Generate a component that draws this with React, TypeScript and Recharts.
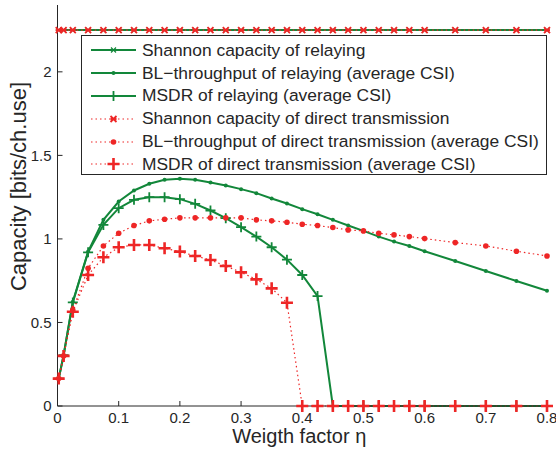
import { Line, LineChart, XAxis, YAxis } from "recharts";

const etas = [0.002, 0.01, 0.025, 0.05, 0.075, 0.1, 0.125, 0.15, 0.175, 0.2, 0.225, 0.25, 0.275, 0.3, 0.325, 0.35, 0.375, 0.4, 0.425, 0.45, 0.475, 0.5, 0.525, 0.55, 0.575, 0.6, 0.65, 0.7, 0.75, 0.8];

const shannonRelay = [2.25, 2.25, 2.25, 2.25, 2.25, 2.25, 2.25, 2.25, 2.25, 2.25, 2.25, 2.25, 2.25, 2.25, 2.25, 2.25, 2.25, 2.25, 2.25, 2.25, 2.25, 2.25, 2.25, 2.25, 2.25, 2.25, 2.25, 2.25, 2.25, 2.25];
const blRelay = [0.164, 0.304, 0.624, 0.924, 1.114, 1.224, 1.29, 1.33, 1.354, 1.36, 1.354, 1.338, 1.32, 1.298, 1.274, 1.242, 1.212, 1.178, 1.148, 1.114, 1.08, 1.048, 1.014, 0.984, 0.958, 0.926, 0.868, 0.808, 0.748, 0.69];
const msdrRelay = [0.164, 0.304, 0.62, 0.92, 1.084, 1.184, 1.234, 1.25, 1.25, 1.238, 1.21, 1.17, 1.124, 1.07, 1.014, 0.95, 0.876, 0.784, 0.658, 0, 0, 0, 0, 0, 0, 0, 0, 0, 0, 0];
const shannonDirect = [2.25, 2.25, 2.25, 2.25, 2.25, 2.25, 2.25, 2.25, 2.25, 2.25, 2.25, 2.25, 2.25, 2.25, 2.25, 2.25, 2.25, 2.25, 2.25, 2.25, 2.25, 2.25, 2.25, 2.25, 2.25, 2.25, 2.25, 2.25, 2.25, 2.25];
const blDirect = [0.164, 0.3, 0.574, 0.824, 0.958, 1.034, 1.08, 1.108, 1.118, 1.126, 1.126, 1.126, 1.126, 1.126, 1.114, 1.108, 1.1, 1.088, 1.08, 1.068, 1.054, 1.048, 1.034, 1.024, 1.014, 1.002, 0.978, 0.958, 0.926, 0.898];
const msdrDirect = [0.164, 0.3, 0.564, 0.784, 0.89, 0.95, 0.964, 0.964, 0.944, 0.924, 0.898, 0.874, 0.838, 0.8, 0.758, 0.704, 0.618, 0, 0, 0, 0, 0, 0, 0, 0, 0, 0, 0, 0, 0];

const xTicks = [0, 0.1, 0.2, 0.3, 0.4, 0.5, 0.6, 0.7, 0.8];
const yTicks = [0, 0.5, 1, 1.5, 2];

const GREEN = "#12873a";
const RED = "#ee2626";
const INK = "#262626";
const FONT = "'Liberation Sans', Arial, sans-serif";

const data = etas.map((eta, i) => ({
  eta,
  shannonRelay: shannonRelay[i],
  blRelay: blRelay[i],
  msdrRelay: msdrRelay[i],
  shannonDirect: shannonDirect[i],
  blDirect: blDirect[i],
  msdrDirect: msdrDirect[i],
}));

type Kind = "star" | "dot" | "plus" | "bigstar" | "bigdot" | "bigplus";

function Marker({ kind, x, y, color }: { kind: Kind; x: number; y: number; color: string }) {
  switch (kind) {
    case "star":
      return (
        <path
          d={`M${x - 2.5} ${y - 2.5}L${x + 2.5} ${y + 2.5}M${x - 2.5} ${y + 2.5}L${x + 2.5} ${y - 2.5}M${x - 3} ${y}H${x + 3}`}
          stroke={color}
          strokeWidth={1.2}
        />
      );
    case "bigstar":
      return (
        <path
          d={`M${x - 3} ${y - 3}L${x + 3} ${y + 3}M${x - 3} ${y + 3}L${x + 3} ${y - 3}M${x - 3} ${y}H${x + 3}`}
          stroke={color}
          strokeWidth={1.8}
        />
      );
    case "dot":
      return <circle cx={x} cy={y} r={2} fill={color} />;
    case "bigdot":
      return <circle cx={x} cy={y} r={2.8} fill={color} />;
    case "plus":
      return <path d={`M${x - 5} ${y}H${x + 5}M${x} ${y - 5}V${y + 5}`} stroke={color} strokeWidth={1.8} />;
    default:
      return <path d={`M${x - 6} ${y}H${x + 6}M${x} ${y - 6}V${y + 6}`} stroke={color} strokeWidth={2.6} />;
  }
}

const dotFor = (kind: Kind, color: string) => (p: any) => (
  <Marker key={`${kind}-${p.index}`} kind={kind} x={p.cx} y={p.cy} color={color} />
);

const legendItems: { label: string; color: string; dotted: boolean; kind: Kind }[] = [
  { label: "Shannon capacity of relaying", color: GREEN, dotted: false, kind: "star" },
  { label: "BL\u2212throughput of relaying (average CSI)", color: GREEN, dotted: false, kind: "dot" },
  { label: "MSDR of relaying (average CSI)", color: GREEN, dotted: false, kind: "plus" },
  { label: "Shannon capacity of direct transmission", color: RED, dotted: true, kind: "bigstar" },
  { label: "BL\u2212throughput of direct transmission (average CSI)", color: RED, dotted: true, kind: "bigdot" },
  { label: "MSDR of direct transmission (average CSI)", color: RED, dotted: true, kind: "bigplus" },
];

function LegendBox() {
  return (
    <div
      style={{
        position: "absolute",
        left: 81,
        top: 35,
        width: 464,
        height: 135,
        border: `1px solid ${INK}`,
        background: "#fff",
        paddingTop: 3,
      }}
    >
      {legendItems.map((it) => (
        <div key={it.label} style={{ display: "flex", alignItems: "center", height: 22.8 }}>
          <svg width={58} height={22} style={{ flex: "none" }}>
            <line
              x1={9}
              x2={54}
              y1={11}
              y2={11}
              stroke={it.color}
              strokeWidth={it.dotted ? 1.2 : 2}
              strokeDasharray={it.dotted ? "1.5 3" : undefined}
            />
            <Marker kind={it.kind} x={31.5} y={11} color={it.color} />
          </svg>
          <span style={{ fontFamily: FONT, fontSize: 17.4, color: INK, marginLeft: 2, whiteSpace: "nowrap" }}>
            {it.label}
          </span>
        </div>
      ))}
    </div>
  );
}

export default function App() {
  return (
    <div style={{ position: "absolute", left: 0, top: 0, width: 556, height: 451, background: "#fff" }}>
      <LineChart width={556} height={451} data={data} margin={{ top: 5, right: 9, bottom: 0, left: 0 }}>
        <XAxis
          dataKey="eta"
          type="number"
          domain={[0, 0.8]}
          ticks={xTicks}
          interval={0}
          tickSize={-5}
          tickMargin={11}
          stroke={INK}
          tick={{ fill: INK, fontFamily: FONT, fontSize: 15 }}
          height={45}
          label={{ value: "Weigth factor \u03b7", position: "insideBottom", offset: 8, dx: -3, fill: INK, fontFamily: FONT, fontSize: 20 }}
        />
        <XAxis
          xAxisId="top"
          dataKey="eta"
          type="number"
          orientation="top"
          domain={[0, 0.8]}
          ticks={xTicks}
          interval={0}
          tickSize={5}
          tick={false}
          height={0}
          stroke={INK}
        />
        <YAxis
          type="number"
          domain={[0, 2.4]}
          ticks={yTicks}
          interval={0}
          tickSize={-5}
          tickMargin={11}
          width={57.5}
          stroke={INK}
          tick={{ fill: INK, fontFamily: FONT, fontSize: 15 }}
          label={{ value: "Capacity [bits/ch.use]", angle: -90, position: "center", dx: -11, dy: -19, fill: INK, fontFamily: FONT, fontSize: 22 }}
        />
        <YAxis
          yAxisId="right"
          type="number"
          orientation="right"
          domain={[0, 2.4]}
          ticks={yTicks}
          interval={0}
          tickSize={5}
          tick={false}
          width={0}
          stroke={INK}
        />
        <Line dataKey="shannonRelay" stroke={GREEN} strokeWidth={2} dot={dotFor("star", GREEN)} isAnimationActive={false} />
        <Line dataKey="blRelay" stroke={GREEN} strokeWidth={2} dot={dotFor("dot", GREEN)} isAnimationActive={false} />
        <Line dataKey="msdrRelay" stroke={GREEN} strokeWidth={2} dot={dotFor("plus", GREEN)} isAnimationActive={false} />
        <Line dataKey="shannonDirect" stroke={RED} strokeWidth={1.2} strokeDasharray="1.5 3" dot={dotFor("bigstar", RED)} isAnimationActive={false} />
        <Line dataKey="blDirect" stroke={RED} strokeWidth={1.2} strokeDasharray="1.5 3" dot={dotFor("bigdot", RED)} isAnimationActive={false} />
        <Line dataKey="msdrDirect" stroke={RED} strokeWidth={1.2} strokeDasharray="1.5 3" dot={dotFor("bigplus", RED)} isAnimationActive={false} />
      </LineChart>
      <LegendBox />
    </div>
  );
}
